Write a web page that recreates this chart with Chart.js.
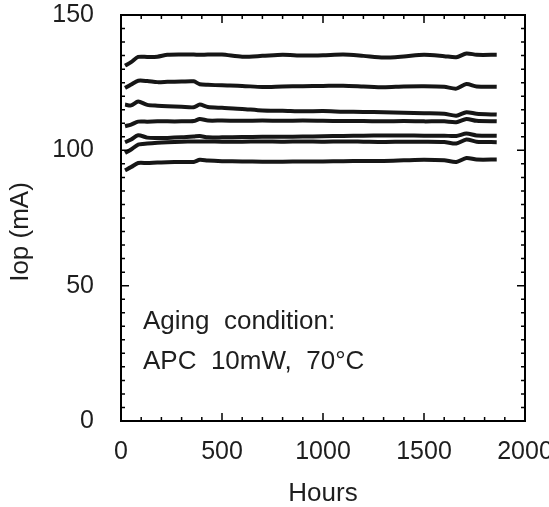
<!DOCTYPE html>
<html>
<head>
<meta charset="utf-8">
<script src="https://cdn.jsdelivr.net/npm/chart.js@4.4.1/dist/chart.umd.min.js"></script>
<style>
  html, body { margin: 0; padding: 0; background: #fff; }
  #wrap { width: 549px; height: 507px; }
</style>
</head>
<body>
<div id="wrap"><canvas id="chart" width="549" height="507"></canvas></div>
<script>
// sampling times (hours), shared by all devices
const hours = [20, 50, 85, 130, 180, 230, 300, 360, 390, 430, 500, 600, 700, 800, 900, 1000, 1100, 1200, 1300, 1400, 1500, 1600, 1660, 1710, 1760, 1860];

// operating current (mA) per device
const dev1 = [131.3, 132.6, 134.5, 134.5, 134.6, 135.3, 135.4, 135.4, 135.3, 135.4, 135.4, 134.6, 134.9, 135.3, 135.0, 135.1, 135.4, 134.9, 134.3, 134.7, 135.3, 134.8, 134.4, 135.8, 135.3, 135.3];
const dev2 = [123.0, 124.3, 125.7, 125.6, 125.2, 125.3, 125.4, 125.5, 124.4, 124.2, 124.0, 123.8, 123.4, 123.6, 123.7, 123.8, 123.9, 123.6, 123.3, 123.6, 123.7, 123.5, 122.8, 124.5, 123.6, 123.5];
const dev3 = [116.9, 116.6, 118.0, 116.8, 116.5, 116.3, 116.1, 115.9, 116.9, 116.0, 115.7, 115.3, 114.7, 114.6, 114.4, 114.5, 114.3, 114.2, 114.1, 113.9, 113.7, 113.5, 112.8, 114.1, 113.5, 113.2];
const dev4 = [108.9, 109.5, 110.6, 110.6, 110.7, 110.7, 110.7, 110.8, 111.6, 111.0, 111.0, 110.9, 111.0, 110.9, 111.0, 110.9, 110.8, 110.8, 110.7, 110.8, 110.7, 110.7, 110.4, 111.6, 110.9, 110.7];
const dev5 = [103.0, 104.0, 105.6, 104.7, 104.6, 104.6, 104.8, 105.1, 105.3, 104.8, 104.8, 104.9, 105.0, 105.0, 105.1, 105.2, 105.3, 105.4, 105.5, 105.5, 105.4, 105.4, 105.3, 106.2, 105.5, 105.4];
const dev6 = [99.0, 100.3, 102.1, 102.5, 102.8, 103.0, 103.2, 103.3, 103.3, 103.3, 103.2, 103.2, 103.3, 103.2, 103.3, 103.2, 103.3, 103.2, 103.1, 103.2, 103.2, 103.1, 102.5, 104.0, 103.2, 103.0];
const dev7 = [92.6, 93.8, 95.3, 95.3, 95.5, 95.6, 95.7, 95.7, 96.5, 96.2, 96.0, 95.9, 95.8, 95.8, 95.9, 95.9, 96.0, 96.1, 96.1, 96.3, 96.5, 96.3, 95.7, 97.2, 96.6, 96.6];

const devices = [dev1, dev2, dev3, dev4, dev5, dev6, dev7];

const xTicks = [0, 500, 1000, 1500, 2000];
const yTicks = [0, 50, 100, 150];

const FONT = "'Liberation Sans', Arial, sans-serif";

// frame, inward ticks, axis titles and the note
const framePlugin = {
  id: "frame",
  afterDraw(chart) {
    const { ctx, chartArea: a, scales } = chart;
    const x = scales.x, y = scales.y;
    ctx.save();
    ctx.strokeStyle = "#000";
    ctx.lineWidth = 2;
    ctx.strokeRect(a.left, a.top, a.right - a.left, a.bottom - a.top);

    ctx.lineWidth = 1.5;
    ctx.beginPath();
    for (let v = 0; v <= 2000; v += 100) {
      const px = x.getPixelForValue(v);
      const len = v % 500 === 0 ? 8 : 4;
      ctx.moveTo(px, a.bottom); ctx.lineTo(px, a.bottom - len);
      ctx.moveTo(px, a.top); ctx.lineTo(px, a.top + len);
    }
    for (let v = 0; v <= 150; v += 5) {
      const py = y.getPixelForValue(v);
      const len = v % 50 === 0 ? 8 : 4;
      ctx.moveTo(a.left, py); ctx.lineTo(a.left + len, py);
      ctx.moveTo(a.right, py); ctx.lineTo(a.right - len, py);
    }
    ctx.stroke();

    ctx.fillStyle = "#1e1e1e";
    ctx.font = "26px " + FONT;
    ctx.textAlign = "center";
    ctx.textBaseline = "middle";
    ctx.fillText("Hours", (a.left + a.right) / 2, 494);

    ctx.save();
    ctx.translate(21, 232);
    ctx.rotate(-Math.PI / 2);
    ctx.fillText("Iop (mA)", 0, 0);
    ctx.restore();

    ctx.textAlign = "left";
    ctx.fillText("Aging  condition:", 143, 322);
    ctx.fillText("APC  10mW,  70\u00B0C", 143, 362);
    ctx.restore();
  }
};

function noPad(s) {
  s.paddingTop = 0; s.paddingBottom = 0; s.paddingLeft = 0; s.paddingRight = 0;
}

new Chart(document.getElementById("chart"), {
  type: "line",
  data: {
    datasets: devices.map(d => ({
      data: hours.map((h, i) => ({ x: h, y: d[i] })),
      borderColor: "#161616",
      borderWidth: 4,
      pointRadius: 0,
      tension: 0.25,
      fill: false
    }))
  },
  options: {
    responsive: false,
    animation: false,
    layout: { padding: { top: 15, right: 24, left: 0, bottom: 0 } },
    plugins: { legend: { display: false }, tooltip: { enabled: false } },
    scales: {
      x: {
        type: "linear",
        min: 0,
        max: 2000,
        afterBuildTicks: s => { s.ticks = xTicks.map(v => ({ value: v })); },
        afterFit: s => { s.height = 86; noPad(s); },
        grid: { display: false, drawTicks: false },
        border: { display: false },
        ticks: { color: "#1e1e1e", font: { size: 25, family: FONT }, padding: 16, maxRotation: 0, callback: v => String(v) }
      },
      y: {
        type: "linear",
        min: 0,
        max: 150,
        afterBuildTicks: s => { s.ticks = yTicks.map(v => ({ value: v })); },
        afterFit: s => { s.width = 121; noPad(s); },
        grid: { display: false, drawTicks: false },
        border: { display: false },
        ticks: { color: "#1e1e1e", font: { size: 25, family: FONT }, padding: 27, callback: v => String(v) }
      }
    }
  },
  plugins: [framePlugin]
});
</script>
</body>
</html>
